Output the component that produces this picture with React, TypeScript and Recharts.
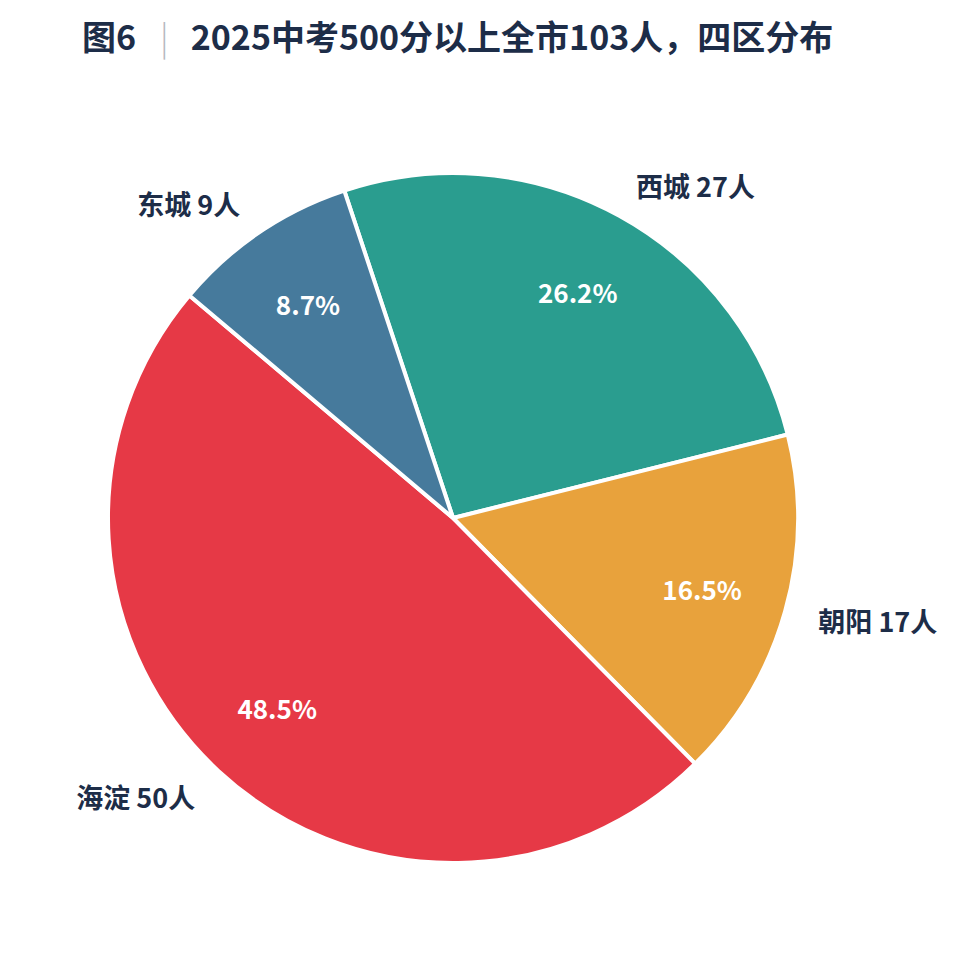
import { PieChart, Pie, Cell } from "recharts";

const districts = ["西城", "朝阳", "海淀", "东城"];
const counts = [27, 17, 50, 9];
const titleLabel = "图6";
const titleText = "2025中考500分以上全市103人，四区分布";

const COLORS = ["#2a9d8f", "#e8a23c", "#e63946", "#467a9c"];
const INK = "#1d2d48";
const FONT = '"Noto Sans CJK SC", "Noto Sans", sans-serif';
const RAD = Math.PI / 180;

const data = districts.map((name, i) => ({ name, value: counts[i] }));
const total = counts.reduce((a, b) => a + b, 0);
// 西城 ends at ~14° (just above 3 o'clock), slices go clockwise
const start = 14 + (counts[0] / total) * 360;

function renderLabel(props: any) {
  const { cx, cy, midAngle, outerRadius, value, name } = props;
  const cos = Math.cos(-midAngle * RAD);
  const sin = Math.sin(-midAngle * RAD);
  const ro = outerRadius * 1.1;
  const ri = outerRadius * 0.75;
  const pct = ((value / total) * 100).toFixed(1) + "%";
  return (
    <g>
      <text
        x={cx + ri * cos}
        y={cy + ri * sin}
        fill="#fff"
        textAnchor="middle"
        dominantBaseline="central"
        fontSize={26}
        fontWeight={700}
        fontFamily={FONT}
      >
        {pct}
      </text>
      <text
        x={cx + ro * cos}
        y={cy + ro * sin}
        fill={INK}
        textAnchor={cos >= 0 ? "start" : "end"}
        dominantBaseline="central"
        fontSize={27}
        fontWeight={700}
        fontFamily={FONT}
      >
        {`${name} ${value}人`}
      </text>
    </g>
  );
}

export default function App() {
  return (
    <div style={{ position: "absolute", left: 0, top: 0, width: 959, height: 971, background: "#fff" }}>
      <div
        style={{
          position: "absolute",
          left: 82,
          top: 19,
          fontFamily: FONT,
          fontWeight: 700,
          fontSize: 34,
          lineHeight: 1,
          color: INK,
          whiteSpace: "nowrap",
        }}
      >
        {titleLabel}
        <span style={{ color: "#b5b9c0", fontWeight: 300, margin: "0 22px 0 24px" }}>|</span>
        {titleText}
      </div>
      <PieChart width={959} height={971} margin={{ top: 0, right: 0, bottom: 0, left: 0 }}>
        <Pie
          data={data}
          dataKey="value"
          nameKey="name"
          cx={453}
          cy={518}
          outerRadius={345}
          startAngle={start}
          endAngle={start - 360}
          stroke="#fff"
          strokeWidth={4}
          label={renderLabel}
          labelLine={false}
          isAnimationActive={false}
        >
          {data.map((d, i) => (
            <Cell key={d.name} fill={COLORS[i]} />
          ))}
        </Pie>
      </PieChart>
    </div>
  );
}
